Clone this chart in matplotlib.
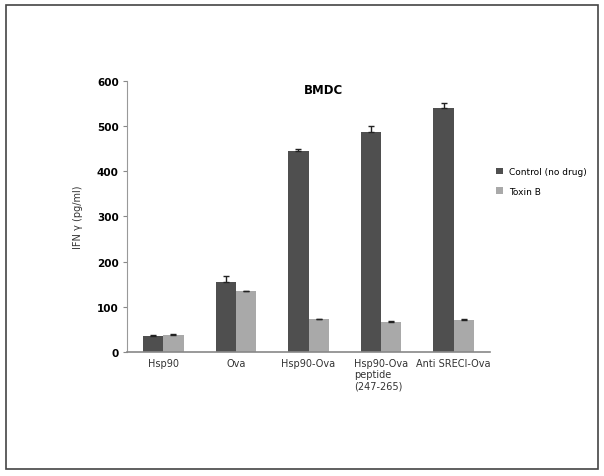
import numpy as np
import matplotlib.pyplot as plt
from matplotlib.patches import Rectangle

categories = ['Hsp90', 'Ova', 'Hsp90-Ova', 'Hsp90-Ova\npeptide\n(247-265)', 'Anti SRECI-Ova']
control = [36, 155, 444, 488, 541]
control_err = [2, 13, 5, 12, 10]
toxin = [37, 134, 72, 66, 70]
toxin_err = [2, 2, 2, 2, 2]

fig = plt.figure(figsize=(6.04, 4.77), dpi=100)
# outer frame
fig.patches.append(Rectangle((6/604, 1-470/477), 592/604, 464/477, transform=fig.transFigure,
                             fill=False, edgecolor='#444444', linewidth=1.2))

ax = fig.add_axes([127/604, 1-353/477, 363/604, 271/477])
x = np.arange(len(categories))
w = 0.28
ekw = dict(ecolor='#222222', capsize=2, elinewidth=1, capthick=1)
# only the upper half of each error bar shows, as in the original
ax.bar(x - w/2, control, w, yerr=[np.zeros(5), control_err], color='#4f4f4f',
       label='Control (no drug)', error_kw=ekw)
ax.bar(x + w/2, toxin, w, yerr=[np.zeros(5), toxin_err], color='#a9a9a9',
       label='Toxin B', error_kw=ekw)

ax.set_xlim(-0.5, len(categories) - 0.5)
ax.set_ylim(0, 600)
ax.set_yticks(range(0, 601, 100))
ax.set_xticks(x)
ax.set_xticklabels(categories, fontsize=7, color='#333333', ha='center', va='top',
                   multialignment='left')
for lbl in ax.get_yticklabels():
    lbl.set_fontsize(7.5)
    lbl.set_fontweight('bold')
ax.tick_params(axis='x', length=0, pad=4)
ax.tick_params(axis='y', length=3, color='#888888', pad=3)
ax.spines['top'].set_visible(False)
ax.spines['right'].set_visible(False)
ax.spines['left'].set_color('#999999')
ax.spines['bottom'].set_color('#888888')
ax.spines['bottom'].set_linewidth(1.2)

ax.set_ylabel('IFN γ (pg/ml)', fontsize=7, color='#333333', labelpad=10)
ax.text(0.54, 0.97, 'BMDC', transform=ax.transAxes, fontsize=8.5, fontweight='bold',
        ha='center', va='center')

ax.legend(loc='center left', bbox_to_anchor=(0.995, 0.63), frameon=False, fontsize=6.5,
          handlelength=0.7, handleheight=0.7, labelspacing=1.2, handletextpad=0.7)

fig.savefig('out.png', dpi=100)
